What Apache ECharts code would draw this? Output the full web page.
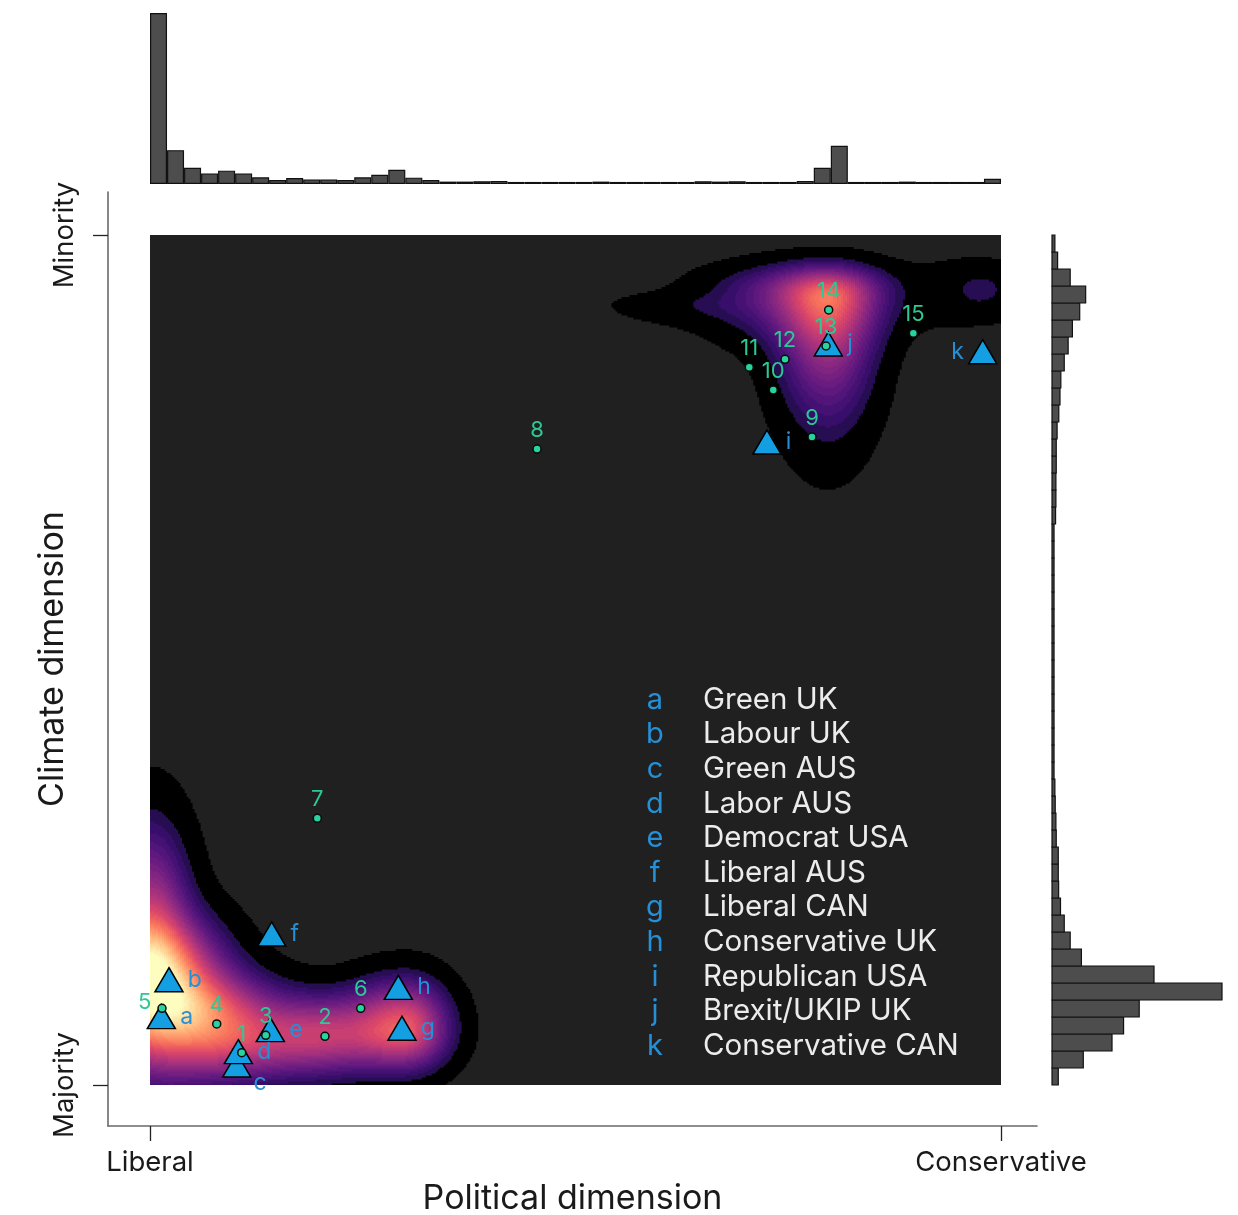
<!DOCTYPE html>
<html><head><meta charset="utf-8">
<script src="https://cdn.jsdelivr.net/npm/echarts@6/dist/echarts.min.js"></script>
<style>html,body{margin:0;padding:0;background:#fff}#c{width:1238px;height:1215px}</style>
</head><body><div id="c"></div>
<script>
// ---------------- DATA ----------------
// marginal histograms: 50 bins of width 0.02 over [0,1] (relative heights, tallest = 100)
const topHist = [100,19.8,9.5,6.2,7.8,6.2,3.9,2.3,3.5,2.7,2.7,2.3,3.9,5.4,8.3,3.7,2.3,1.4,1.4,1.6,
  1.8,1.2,1.2,1.2,1.2,1.2,1.4,1.2,1.2,1.2,1.2,1.2,1.6,1.4,1.6,1.2,1.2,1.2,1.8,9.5,
  22.3,1.2,1.2,1.2,1.4,1.2,1.2,1.2,1.2,3.0];
const rightHist = [3.7,18.4,35.3,42.1,51.3,100,60,17.3,10.7,7.2,5.0,3.9,3.7,3.7,2.5,2.3,1.9,1.7,1.2,1.2,
  1.2,1.2,1.2,1.2,1.2,1.2,1.2,1.2,1.2,1.2,1.2,1.2,1.2,2.1,2.3,2.3,2.5,2.5,3.0,4.0,
  4.7,5.2,7.2,9.5,12.0,16.3,19.8,10.7,3.3,1.7];
const binWidth = 0.02;
const binLabels = topHist.map((_, i) => (i * binWidth).toFixed(2));

// numbered points (political, climate) in [0,1]
const numLabels = ['1','2','3','4','5','6','7','8','9','10','11','12','13','14','15'];
const numX = [0.1078,0.2056,0.1360,0.0784,0.0141,0.2476,0.1966,0.4548,0.7779,0.7324,0.7042,0.7462,0.7944,0.7975,0.8970];
const numY = [0.0380,0.0573,0.0585,0.0718,0.0902,0.0902,0.3138,0.7482,0.7624,0.8176,0.8444,0.8538,0.8694,0.9118,0.8844];

// parties
const partyCodes = ['a','b','c','d','e','f','g','h','i','j','k'];
const partyNames = ['Green UK','Labour UK','Green AUS','Labor AUS','Democrat USA','Liberal AUS','Liberal CAN','Conservative UK','Republican USA','Brexit/UKIP UK','Conservative CAN'];
const partyX = [0.0133,0.0223,0.1019,0.1038,0.1414,0.1430,0.2961,0.2918,0.7250,0.7971,0.9785];
const partyY = [0.0804,0.1239,0.0235,0.0392,0.0651,0.1776,0.0667,0.1149,0.7565,0.8718,0.8627];

// density surface: kernel components (centre, weight, split spreads)
const densX   = [0,      0,      0.0588, 0.1058, 0.1998, 0.2996, 0.7967, 0.7873, 0.6404, 0.9460, 0.9777];
const densY   = [0.1259, 0.1882, 0.0882, 0.0529, 0.0588, 0.0671, 0.9235, 0.9353, 0.9176, 0.9294, 0.9376];
const densW   = [0.85,   0.33,   0.40,   0.25,   0.35,   0.50,   0.38,   0.25,   0.03,   0.025,  0.04];
const densSxL = [0.047,  0.0282, 0.0529, 0.047,  0.047,  0.0412, 0.0353, 0.0682, 0.0647, 0.0412, 0.0235];
const densSxR = [0.047,  0.0282, 0.0529, 0.047,  0.047,  0.0306, 0.0329, 0.0494, 0.0529, 0.0706, 0.0235];
const densSyB = [0.0588, 0.0471, 0.0412, 0.0294, 0.0282, 0.0282, 0.0824, 0.0353, 0.0141, 0.0259, 0.0165];
const densSyA = [0.0424, 0.0706, 0.0294, 0.0294, 0.0282, 0.0329, 0.0212, 0.0188, 0.0106, 0.0282, 0.0165];

const xEndLabels = ['Liberal','Conservative'];
const yEndLabels = ['Majority','Minority'];

// ---------------- HELPERS ----------------
const MAGMA = ['#000004','#140e36','#3b0f70','#641a80','#8c2981','#b73779','#de4968','#f7705c','#fe9f6d','#fecf92','#fcfdbf'];
function hx(h){return [parseInt(h.substr(1,2),16),parseInt(h.substr(3,2),16),parseInt(h.substr(5,2),16)];}
function magma(t){
  t=Math.max(0,Math.min(1,t)); const s=t*10; const i=Math.min(9,Math.floor(s)); const f=s-i;
  const a=hx(MAGMA[i]), b=hx(MAGMA[i+1]);
  return 'rgb('+a.map((v,k)=>Math.round(v+(b[k]-v)*f)).join(',')+')';
}
function density(x,y){
  let s=0;
  for(let k=0;k<densX.length;k++){
    const dx=x-densX[k], dy=y-densY[k];
    const sx=dx<0?densSxL[k]:densSxR[k], sy=dy<0?densSyB[k]:densSyA[k];
    s+=densW[k]*Math.exp(-0.5*(dx*dx/(sx*sx)+dy*dy/(sy*sy)));
  }
  return s;
}
const T0=0.01, T1=0.05, STEP=0.025;
function levelOf(v){ if(v<T0) return -1; if(v<T1) return 0; return 1+Math.floor((v-T1)/STEP); }
function levelColor(L){
  if(L===0) return '#000000';
  const mid=T1+(L-0.5)*STEP;
  const t=Math.max(0,Math.min(1,(mid-T1)/(0.95-T1)));
  return magma(0.12+0.88*Math.pow(t,0.8));
}

// build run-length cells of the density grid
const NX=426, NY=425;
const densCells=[];
for(let j=0;j<NY;j++){
  const y0=j/NY, y1=(j+1)/NY, yc=(j+0.5)/NY;
  let runStart=-1, runL=-1;
  for(let i=0;i<=NX;i++){
    const L = i<NX ? levelOf(density((i+0.5)/NX,yc)) : -2;
    if(L!==runL){
      if(runL>=0) densCells.push([runStart/NX, i/NX, y0, y1, runL]);
      runStart=i; runL=L;
    }
  }
}
// right marginal histogram as [count, binStart, binEnd]
const rightHistData = rightHist.map((v,i)=>[v, i*binWidth, (i+1)*binWidth]);

// ---------------- CHART ----------------
const FONT='Inter';
const GREEN='#27d39e', GREEN_TXT='#2bc995', BLUE='#149fe3', BLUE_TXT='#2590d6';
const chart=echarts.init(document.getElementById('c'),null,{renderer:'canvas'});

const numData=numLabels.map((n,i)=>{
  const d={value:[numX[i],numY[i]],name:n};
  if(n==='5') d.label={position:'left',distance:6,offset:[0,-6]};
  return d;
});
const partyData=partyCodes.map((c,i)=>{
  const d={value:[partyX[i],partyY[i]],name:c};
  if(c==='c') d.label={position:'right',offset:[-2,18]};
  if(c==='k') d.label={position:'left'};
  return d;
});

const legendGraphics=[];
partyCodes.forEach((c,i)=>{
  const y=700+i*34.6;
  legendGraphics.push({type:'text',x:655,y:y,z:100,silent:true,style:{text:c,fill:BLUE_TXT,fontSize:29,fontFamily:FONT,textAlign:'center',textVerticalAlign:'middle'}});
  legendGraphics.push({type:'text',x:703,y:y,z:100,silent:true,style:{text:partyNames[i],fill:'#ececec',fontSize:29.5,fontFamily:FONT,textAlign:'left',textVerticalAlign:'middle'}});
});

const hidden={show:false};
const gridBase={outerBoundsMode:'none',containLabel:false};
chart.setOption({
  animation:false,
  backgroundColor:'#ffffff',
  textStyle:{fontFamily:FONT},
  grid:[
    Object.assign({left:108,top:192,width:929,height:934,show:false},gridBase),
    Object.assign({left:150,top:235,width:851,height:850,show:true,backgroundColor:'#202020',borderWidth:0},gridBase),
    Object.assign({left:150,top:13,width:851,height:171,show:false},gridBase),
    Object.assign({left:1052,top:235,width:170,height:850,show:false},gridBase)
  ],
  xAxis:[
    {gridIndex:0,type:'value',min:-0.04935,max:1.0423,splitLine:hidden,nameMoveOverlap:false,
     axisLine:{show:true,onZero:false,lineStyle:{color:'#6a6a6a',width:1.6}},
     axisTick:{show:true,customValues:[0,1],length:15,lineStyle:{color:'#222',width:1.3}},
     axisLabel:{show:true,customValues:[0,1],formatter:v=>v<0.5?xEndLabels[0]:xEndLabels[1],fontSize:27.5,color:'#1a1a1a',margin:23,fontFamily:FONT},
     name:'Political dimension',nameLocation:'middle',nameGap:56,nameTextStyle:{fontSize:34,color:'#1a1a1a',fontFamily:FONT}},
    {gridIndex:1,type:'value',min:0,max:1,show:false},
    {gridIndex:2,type:'category',data:binLabels,show:false},
    {gridIndex:3,type:'value',min:0,max:100,show:false}
  ],
  yAxis:[
    {gridIndex:0,type:'value',min:-0.04824,max:1.0506,splitLine:hidden,nameMoveOverlap:false,
     axisLine:{show:true,onZero:false,lineStyle:{color:'#6a6a6a',width:1.6}},
     axisTick:{show:true,customValues:[0,1],length:15,lineStyle:{color:'#222',width:1.3}},
     axisLabel:{show:true,customValues:[0,1],formatter:v=>v<0.5?yEndLabels[0]:yEndLabels[1],rotate:90,fontSize:27.5,color:'#1a1a1a',margin:29,fontFamily:FONT},
     name:'Climate dimension',nameLocation:'middle',nameRotate:90,nameGap:38,nameTextStyle:{fontSize:34,color:'#1a1a1a',fontFamily:FONT}},
    {gridIndex:1,type:'value',min:0,max:1,show:false},
    {gridIndex:2,type:'value',min:0,max:100,show:false},
    {gridIndex:3,type:'value',min:0,max:1,show:false}
  ],
  graphic:legendGraphics,
  series:[
    {type:'custom',xAxisIndex:1,yAxisIndex:1,data:densCells,clip:true,progressive:0,silent:true,z:1,
     dimensions:['x0','x1','y0','y1','lvl'],encode:{x:[0,1],y:[2,3]},
     renderItem:(params,api)=>{
       const p0=api.coord([api.value(0),api.value(3)]), p1=api.coord([api.value(1),api.value(2)]);
       return {type:'rect',shape:{x:p0[0],y:p0[1],width:p1[0]-p0[0]+0.6,height:p1[1]-p0[1]+0.6},style:{fill:levelColor(api.value(4))}};
     }},
    {type:'scatter',xAxisIndex:1,yAxisIndex:1,data:partyData,symbol:'triangle',symbolSize:[28,24],clip:false,z:3,
     itemStyle:{color:BLUE,borderColor:'#000',borderWidth:1.5,opacity:1},
     label:{show:true,position:'right',distance:4,formatter:'{b}',color:BLUE_TXT,fontSize:23,fontFamily:FONT}},
    {type:'scatter',xAxisIndex:1,yAxisIndex:1,data:numData,symbol:'circle',symbolSize:8,clip:false,z:4,
     itemStyle:{color:GREEN,borderColor:'#0a0a0a',borderWidth:1.5,opacity:1},
     label:{show:true,position:'top',distance:3,formatter:'{b}',color:GREEN_TXT,fontSize:22,fontFamily:FONT}},
    {type:'bar',xAxisIndex:2,yAxisIndex:2,data:topHist,barWidth:'100%',barCategoryGap:'0%',silent:true,
     itemStyle:{color:'#4d4d4d',borderColor:'#111',borderWidth:1.2}},
    {type:'custom',xAxisIndex:3,yAxisIndex:3,data:rightHistData,progressive:0,silent:true,clip:false,
     dimensions:['v','y0','y1'],encode:{x:0,y:[1,2]},
     renderItem:(params,api)=>{
       const p0=api.coord([0,api.value(2)]), p1=api.coord([api.value(0),api.value(1)]);
       return {type:'rect',shape:{x:p0[0],y:p0[1],width:Math.max(2,p1[0]-p0[0]),height:p1[1]-p0[1]},
               style:{fill:'#4d4d4d',stroke:'#111',lineWidth:1.2}};
     }}
  ]
});
</script></body></html>
